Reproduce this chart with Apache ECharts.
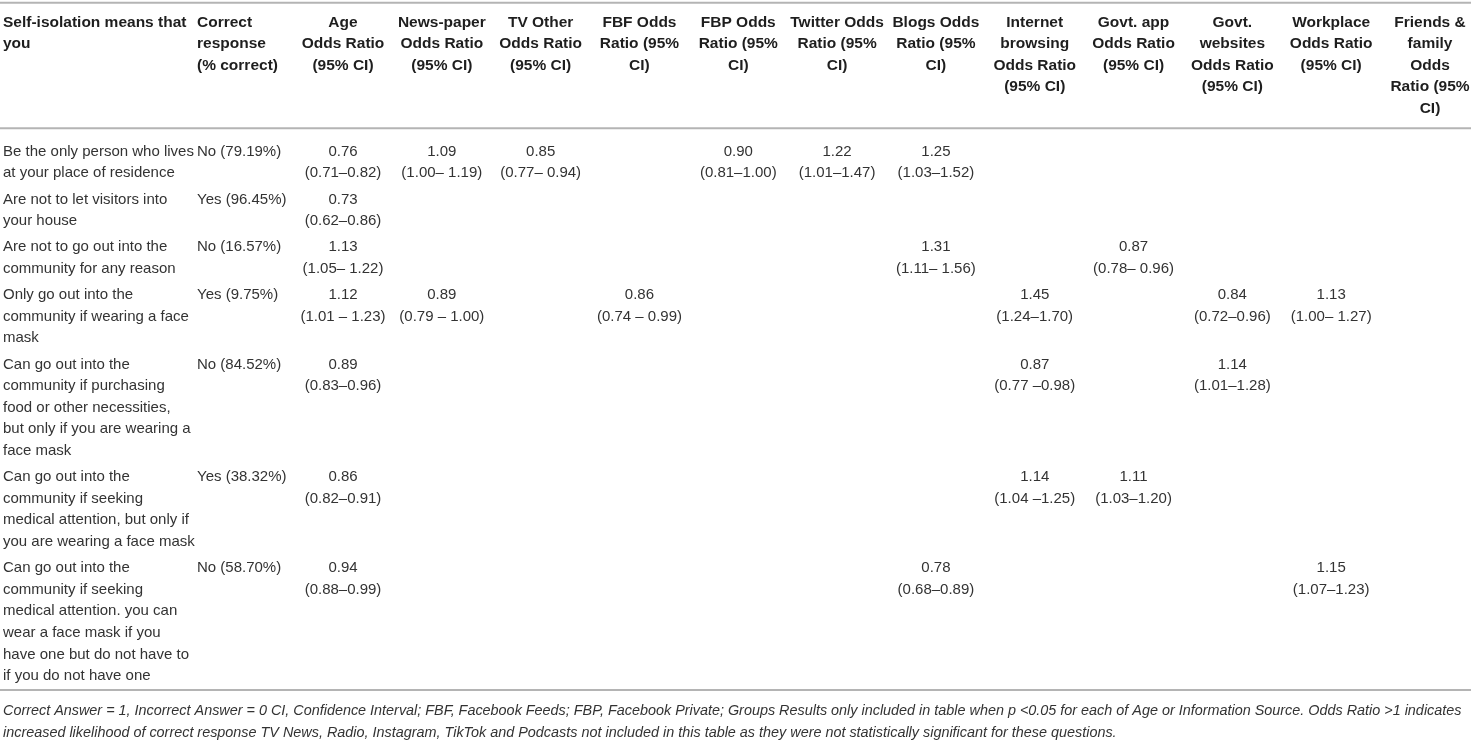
<!DOCTYPE html>
<html>
<head>
<meta charset="utf-8">
<script src="https://cdn.jsdelivr.net/npm/echarts@6/dist/echarts.min.js"></script>
<style>
html,body{margin:0;padding:0;background:#fff;}
#main{width:1471px;height:741px;}
</style>
</head>
<body>
<div id="main"></div>
<script>
// ---------- DATA ----------
const questionHeader = 'Self-isolation means that\nyou';
const correctHeader = 'Correct\nresponse\n(% correct)';
const sourceHeaders = [
  'Age\nOdds Ratio\n(95% CI)',
  'News-paper\nOdds Ratio\n(95% CI)',
  'TV Other\nOdds Ratio\n(95% CI)',
  'FBF Odds\nRatio (95%\nCI)',
  'FBP Odds\nRatio (95%\nCI)',
  'Twitter Odds\nRatio (95%\nCI)',
  'Blogs Odds\nRatio (95%\nCI)',
  'Internet\nbrowsing\nOdds Ratio\n(95% CI)',
  'Govt. app\nOdds Ratio\n(95% CI)',
  'Govt.\nwebsites\nOdds Ratio\n(95% CI)',
  'Workplace\nOdds Ratio\n(95% CI)',
  'Friends &\nfamily\nOdds\nRatio (95%\nCI)'
];
const questions = [
  'Be the only person who lives\nat your place of residence',
  'Are not to let visitors into\nyour house',
  'Are not to go out into the\ncommunity for any reason',
  'Only go out into the\ncommunity if wearing a face\nmask',
  'Can go out into the\ncommunity if purchasing\nfood or other necessities,\nbut only if you are wearing a\nface mask',
  'Can go out into the\ncommunity if seeking\nmedical attention, but only if\nyou are wearing a face mask',
  'Can go out into the\ncommunity if seeking\nmedical attention. you can\nwear a face mask if you\nhave one but do not have to\nif you do not have one'
];
const correctResponse = ['No (79.19%)','Yes (96.45%)','No (16.57%)','Yes (9.75%)','No (84.52%)','Yes (38.32%)','No (58.70%)'];

const ageOR       = [0.76, 0.73, 1.13, 1.12, 0.89, 0.86, 0.94];
const ageCI       = ['(0.71–0.82)','(0.62–0.86)','(1.05– 1.22)','(1.01 – 1.23)','(0.83–0.96)','(0.82–0.91)','(0.88–0.99)'];
const newspaperOR = [1.09, null, null, 0.89, null, null, null];
const newspaperCI = ['(1.00– 1.19)', null, null, '(0.79 – 1.00)', null, null, null];
const tvOtherOR   = [0.85, null, null, null, null, null, null];
const tvOtherCI   = ['(0.77– 0.94)', null, null, null, null, null, null];
const fbfOR       = [null, null, null, 0.86, null, null, null];
const fbfCI       = [null, null, null, '(0.74 – 0.99)', null, null, null];
const fbpOR       = [0.90, null, null, null, null, null, null];
const fbpCI       = ['(0.81–1.00)', null, null, null, null, null, null];
const twitterOR   = [1.22, null, null, null, null, null, null];
const twitterCI   = ['(1.01–1.47)', null, null, null, null, null, null];
const blogsOR     = [1.25, null, 1.31, null, null, null, 0.78];
const blogsCI     = ['(1.03–1.52)', null, '(1.11– 1.56)', null, null, null, '(0.68–0.89)'];
const internetOR  = [null, null, null, 1.45, 0.87, 1.14, null];
const internetCI  = [null, null, null, '(1.24–1.70)', '(0.77 –0.98)', '(1.04 –1.25)', null];
const govtAppOR   = [null, null, 0.87, null, null, 1.11, null];
const govtAppCI   = [null, null, '(0.78– 0.96)', null, null, '(1.03–1.20)', null];
const govtWebOR   = [null, null, null, 0.84, 1.14, null, null];
const govtWebCI   = [null, null, null, '(0.72–0.96)', '(1.01–1.28)', null, null];
const workplaceOR = [null, null, null, 1.13, null, null, 1.15];
const workplaceCI = [null, null, null, '(1.00– 1.27)', null, null, '(1.07–1.23)'];
const friendsOR   = [null, null, null, null, null, null, null];
const friendsCI   = [null, null, null, null, null, null, null];

const footnoteLines = [
  'Correct Answer = 1, Incorrect Answer = 0 CI, Confidence Interval; FBF, Facebook Feeds; FBP, Facebook Private; Groups Results only included in table when p <0.05 for each of Age or Information Source. Odds Ratio >1 indicates',
  'increased likelihood of correct response TV News, Radio, Instagram, TikTok and Podcasts not included in this table as they were not statistically significant for these questions.'
];

// ---------- LAYOUT ----------
const W = 1471, H = 741;
const LH = 21.6, ROW_GAP = 4.6, HEAD_LH = 21.4;
const HEAD_Y0 = 22.7, BODY_Y0 = 151.6;
const RULE_TOP = 2.7, RULE_HEAD = 128.3, RULE_BOTTOM = 690;
const FOOT_Y0 = 711, FOOT_LH = 21.5;
const COL0_X = 3, COL1_X = 197;
const FONT = '"Liberation Sans", Arial, Helvetica, sans-serif';
const BODY_FONT = '15px ' + FONT;
const HEAD_FONT = 'bold 15.5px ' + FONT;
const FOOT_FONT = 'italic 14.4px ' + FONT;
const BODY_COLOR = '#333333', HEAD_COLOR = '#1e1e1e', RULE_COLOR = '#b4b4b4';

const orCols = [ageOR,newspaperOR,tvOtherOR,fbfOR,fbpOR,twitterOR,blogsOR,internetOR,govtAppOR,govtWebOR,workplaceOR,friendsOR];
const ciCols = [ageCI,newspaperCI,tvOtherCI,fbfCI,fbpCI,twitterCI,blogsCI,internetCI,govtAppCI,govtWebCI,workplaceCI,friendsCI];

// row first-line centre positions (y-axis units = px)
const rowY = [];
let yy = BODY_Y0;
questions.forEach((q) => {
  rowY.push(yy);
  const n = Math.max(q.split('\n').length, 2);
  yy += n * LH + ROW_GAP;
});

const cells = [];
orCols.forEach((col, c) => {
  col.forEach((v, r) => {
    if (v !== null && v !== undefined) {
      cells.push({ c: c, y: rowY[r], text: v.toFixed(2) + '\n' + ciCols[c][r] });
    }
  });
});
const headCells = sourceHeaders.map((h, c) => ({ c: c, y: HEAD_Y0, text: h }));

function textRender(list, font, fill, lh) {
  return function (params, api) {
    const item = list[params.dataIndex];
    const p = api.coord([item.c, item.y]);
    return {
      type: 'text',
      x: p[0],
      y: p[1] - lh / 2,
      style: {
        text: item.text,
        align: 'center',
        verticalAlign: 'top',
        lineHeight: lh,
        font: font,
        fill: fill
      }
    };
  };
}

const graphics = [];
function rule(y) {
  graphics.push({ type: 'line', shape: { x1: 0, y1: y, x2: W, y2: y }, style: { stroke: RULE_COLOR, lineWidth: 2 }, silent: true });
}
rule(RULE_TOP); rule(RULE_HEAD); rule(RULE_BOTTOM);
function leftText(x, yCenter, text, font, fill, lh) {
  graphics.push({ type: 'text', x: x, y: yCenter - lh / 2,
    style: { text: text, align: 'left', verticalAlign: 'top', lineHeight: lh, font: font, fill: fill } });
}
leftText(COL0_X, HEAD_Y0, questionHeader, HEAD_FONT, HEAD_COLOR, HEAD_LH);
leftText(COL1_X, HEAD_Y0, correctHeader, HEAD_FONT, HEAD_COLOR, HEAD_LH);
questions.forEach((q, r) => {
  leftText(COL0_X, rowY[r], q, BODY_FONT, BODY_COLOR, LH);
  leftText(COL1_X, rowY[r], correctResponse[r], BODY_FONT, BODY_COLOR, LH);
});
footnoteLines.forEach((t, i) => {
  leftText(COL0_X, FOOT_Y0 + i * FOOT_LH, t, FOOT_FONT, BODY_COLOR, FOOT_LH);
});

const chart = echarts.init(document.getElementById('main'), null, { renderer: 'canvas' });
chart.setOption({
  animation: false,
  backgroundColor: '#ffffff',
  grid: { left: 343, right: 41, top: 0, bottom: 0 },
  xAxis: { type: 'value', min: 0, max: sourceHeaders.length - 1, show: false },
  yAxis: { type: 'value', min: 0, max: H, inverse: true, show: false },
  graphic: graphics,
  series: [
    { type: 'custom', name: 'headers', data: headCells.map(h => [h.c, h.y]),
      renderItem: textRender(headCells, HEAD_FONT, HEAD_COLOR, HEAD_LH), silent: true },
    { type: 'custom', name: 'oddsRatios', data: cells.map(d => [d.c, d.y]),
      renderItem: textRender(cells, BODY_FONT, BODY_COLOR, LH), silent: true }
  ]
});
</script>
</body>
</html>
